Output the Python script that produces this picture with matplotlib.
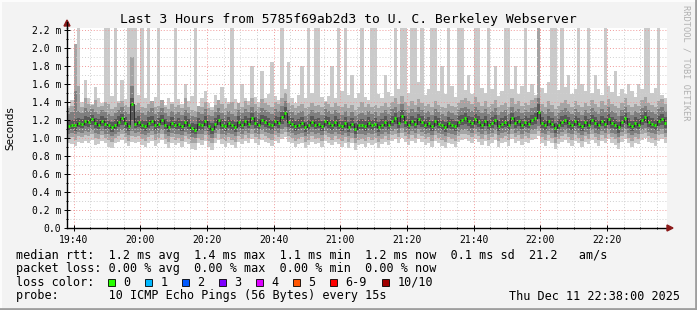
#!/usr/bin/env python3
"""SmokePing style latency graph (last 3 hours) redrawn with matplotlib."""

import matplotlib

matplotlib.use("Agg")

import matplotlib.pyplot as plt
from matplotlib.patches import Rectangle, Polygon
from matplotlib.ticker import FixedLocator, FixedFormatter, NullFormatter

# one column per minute, 19:38 .. 22:38, values in milliseconds
rtt_median = [
    1.13, 1.15, 1.14, 1.17, 1.16, 1.19, 1.18, 1.21, 1.17, 1.15, 1.19, 1.16, 1.14, 1.12, 1.15, 1.18, 1.22, 1.17, 1.13, 1.38,
    1.16, 1.18, 1.15, 1.13, 1.17, 1.19, 1.14, 1.16, 1.20, 1.15, 1.12, 1.17, 1.14, 1.16, 1.13, 1.18, 1.15, 1.11, 1.09, 1.16,
    1.14, 1.19, 1.13, 1.10, 1.16, 1.20, 1.15, 1.13, 1.17, 1.14, 1.12, 1.18, 1.15, 1.19, 1.16, 1.22, 1.17, 1.15, 1.20, 1.18,
    1.16, 1.14, 1.19, 1.17, 1.23, 1.28, 1.18, 1.16, 1.13, 1.15, 1.17, 1.12, 1.14, 1.18, 1.15, 1.16, 1.13, 1.19, 1.17, 1.14,
    1.18, 1.15, 1.13, 1.17, 1.12, 1.16, 1.10, 1.14, 1.15, 1.13, 1.17, 1.14, 1.16, 1.12, 1.15, 1.18, 1.14, 1.19, 1.22, 1.17,
    1.24, 1.18, 1.15, 1.19, 1.16, 1.21, 1.18, 1.15, 1.17, 1.13, 1.19, 1.16, 1.14, 1.12, 1.17, 1.15, 1.13, 1.18, 1.20, 1.22,
    1.19, 1.17, 1.21, 1.18, 1.15, 1.19, 1.14, 1.17, 1.20, 1.13, 1.16, 1.18, 1.14, 1.22, 1.17, 1.19, 1.15, 1.18, 1.16, 1.20,
    1.22, 1.29, 1.17, 1.14, 1.19, 1.16, 1.11, 1.15, 1.18, 1.20, 1.17, 1.14, 1.19, 1.16, 1.13, 1.18, 1.15, 1.20, 1.17, 1.14,
    1.19, 1.16, 1.21, 1.17, 1.15, 1.12, 1.18, 1.22, 1.16, 1.13, 1.17, 1.15, 1.20, 1.23, 1.18, 1.16, 1.14, 1.19, 1.21, 1.17,
]

rtt_min = [
    0.95, 0.93, 0.91, 0.96, 0.94, 0.97, 0.95, 0.98, 0.92, 0.93, 0.97, 0.94, 0.90, 0.89, 0.94, 0.96, 0.98, 0.95, 0.91, 0.96,
    0.95, 0.96, 0.92, 0.90, 0.95, 0.97, 0.91, 0.94, 0.98, 0.93, 0.89, 0.95, 0.92, 0.94, 0.90, 0.96, 0.93, 0.88, 0.87, 0.94,
    0.92, 0.97, 0.90, 0.87, 0.94, 0.98, 0.93, 0.90, 0.95, 0.92, 0.89, 0.96, 0.93, 0.97, 0.94, 0.99, 0.95, 0.92, 0.98, 0.96,
    0.94, 0.91, 0.97, 0.95, 0.99, 1.01, 0.96, 0.94, 0.90, 0.93, 0.95, 0.89, 0.92, 0.96, 0.93, 0.94, 0.90, 0.97, 0.95, 0.92,
    0.96, 0.93, 0.90, 0.95, 0.89, 0.94, 0.87, 0.92, 0.93, 0.90, 0.95, 0.92, 0.94, 0.89, 0.93, 0.96, 0.92, 0.97, 0.99, 0.95,
    1.00, 0.96, 0.92, 0.97, 0.94, 0.99, 0.96, 0.92, 0.95, 0.90, 0.97, 0.94, 0.91, 0.89, 0.95, 0.93, 0.90, 0.96, 0.98, 0.99,
    0.97, 0.95, 0.99, 0.96, 0.92, 0.97, 0.91, 0.95, 0.98, 0.90, 0.94, 0.96, 0.91, 0.99, 0.95, 0.97, 0.92, 0.96, 0.94, 0.98,
    0.99, 1.02, 0.95, 0.91, 0.97, 0.94, 0.88, 0.93, 0.96, 0.98, 0.95, 0.91, 0.97, 0.94, 0.90, 0.96, 0.93, 0.98, 0.95, 0.91,
    0.97, 0.94, 0.99, 0.95, 0.92, 0.88, 0.96, 0.99, 0.94, 0.90, 0.95, 0.93, 0.98, 1.00, 0.96, 0.94, 0.91, 0.97, 0.99, 0.95,
]

rtt_max = [
    1.36, 1.42, 2.05, 2.30, 1.40, 1.64, 1.45, 1.38, 1.57, 1.44, 1.39, 2.30, 2.30, 1.47, 2.30, 1.41, 1.64, 1.43, 2.30, 2.30,
    2.30, 1.48, 2.30, 1.44, 2.30, 1.39, 1.46, 2.30, 1.42, 1.37, 1.45, 1.40, 2.30, 1.43, 1.38, 1.60, 1.41, 1.47, 2.30, 1.36,
    1.44, 1.52, 1.39, 1.35, 1.48, 1.42, 1.57, 1.44, 1.40, 2.30, 1.43, 1.38, 1.60, 1.45, 1.41, 1.80, 1.46, 1.40, 1.75, 1.44,
    1.49, 1.85, 1.47, 1.42, 2.30, 1.55, 1.85, 1.45, 1.39, 1.48, 1.80, 1.44, 2.30, 1.50, 2.30, 2.30, 1.46, 1.41, 1.47, 1.80,
    1.45, 2.30, 1.52, 2.30, 1.48, 1.70, 1.44, 1.50, 2.30, 1.46, 1.42, 2.30, 2.30, 1.49, 1.45, 1.70, 1.51, 1.47, 2.30, 1.55,
    2.30, 2.30, 1.50, 2.30, 2.30, 1.62, 2.30, 1.48, 1.55, 2.30, 2.30, 1.52, 1.80, 1.49, 2.30, 1.58, 1.46, 2.30, 2.30, 1.53,
    1.70, 1.49, 2.30, 2.30, 1.56, 1.50, 2.30, 1.54, 1.80, 1.47, 1.52, 2.30, 2.30, 1.55, 1.80, 1.49, 1.58, 2.30, 1.51, 1.60,
    1.48, 2.30, 1.56, 1.50, 1.62, 2.30, 2.30, 1.53, 2.30, 1.57, 1.70, 1.49, 1.55, 2.30, 1.60, 1.52, 2.30, 1.50, 1.70, 1.54,
    1.48, 2.30, 1.58, 1.51, 1.75, 1.47, 1.55, 1.49, 1.60, 1.52, 1.46, 1.60, 1.54, 2.30, 2.30, 1.50, 1.56, 2.30, 1.48, 1.44,
]

ping2 = [
    1.00, 1.01, 0.98, 1.02, 1.01, 1.03, 1.02, 1.04, 1.00, 0.99, 1.03, 1.00, 0.98, 0.96, 1.00, 1.02, 1.04, 1.01, 0.97, 1.02,
    1.01, 1.02, 0.99, 0.97, 1.01, 1.03, 0.98, 1.00, 1.04, 0.99, 0.96, 1.01, 0.98, 1.00, 0.97, 1.02, 0.99, 0.95, 0.94, 1.00,
    0.98, 1.03, 0.97, 0.94, 1.00, 1.04, 0.99, 0.97, 1.01, 0.98, 0.96, 1.02, 0.99, 1.03, 1.00, 1.05, 1.01, 0.99, 1.04, 1.02,
    1.00, 0.98, 1.03, 1.01, 1.05, 1.07, 1.02, 1.00, 0.97, 0.99, 1.01, 0.96, 0.98, 1.02, 0.99, 1.00, 0.97, 1.03, 1.01, 0.98,
    1.02, 0.99, 0.97, 1.01, 0.96, 1.00, 0.94, 0.98, 0.99, 0.97, 1.01, 0.98, 1.00, 0.96, 0.99, 1.02, 0.98, 1.03, 1.05, 1.01,
    1.06, 1.02, 0.99, 1.03, 1.00, 1.05, 1.02, 0.99, 1.01, 0.97, 1.03, 1.00, 0.98, 0.96, 1.01, 0.99, 0.97, 1.02, 1.04, 1.05,
    1.03, 1.01, 1.05, 1.02, 0.99, 1.03, 0.98, 1.01, 1.04, 0.97, 1.00, 1.02, 0.98, 1.05, 1.01, 1.03, 0.99, 1.02, 1.00, 1.04,
    1.05, 1.08, 1.01, 0.98, 1.03, 1.00, 0.95, 0.99, 1.02, 1.04, 1.01, 0.98, 1.03, 1.00, 0.97, 1.02, 0.99, 1.04, 1.01, 0.98,
    1.03, 1.00, 1.05, 1.01, 0.99, 0.95, 1.02, 1.05, 1.00, 0.97, 1.01, 0.99, 1.04, 1.06, 1.02, 1.00, 0.98, 1.03, 1.05, 1.01,
]

ping9 = [
    1.33, 1.36, 2.05, 1.58, 1.35, 1.44, 1.38, 1.37, 1.42, 1.34, 1.36, 1.40, 1.38, 1.32, 1.35, 1.39, 1.41, 1.37, 1.34, 1.90,
    1.37, 1.39, 1.35, 1.33, 1.38, 1.41, 1.34, 1.36, 1.42, 1.35, 1.32, 1.38, 1.34, 1.37, 1.33, 1.45, 1.35, 1.31, 1.30, 1.36,
    1.34, 1.40, 1.33, 1.31, 1.37, 1.42, 1.38, 1.33, 1.38, 1.40, 1.32, 1.39, 1.35, 1.41, 1.37, 1.44, 1.38, 1.35, 1.43, 1.39,
    1.37, 1.35, 1.40, 1.38, 1.45, 1.50, 1.39, 1.37, 1.33, 1.36, 1.38, 1.33, 1.35, 1.39, 1.36, 1.37, 1.34, 1.40, 1.38, 1.35,
    1.39, 1.36, 1.34, 1.38, 1.33, 1.37, 1.31, 1.35, 1.40, 1.34, 1.38, 1.35, 1.37, 1.33, 1.36, 1.39, 1.35, 1.40, 1.44, 1.38,
    1.47, 1.40, 1.36, 1.41, 1.37, 1.43, 1.39, 1.36, 1.38, 1.34, 1.41, 1.37, 1.35, 1.33, 1.38, 1.36, 1.34, 1.39, 1.42, 1.44,
    1.41, 1.38, 1.46, 1.40, 1.36, 1.41, 1.35, 1.38, 1.42, 1.34, 1.37, 1.39, 1.35, 1.44, 1.38, 1.41, 1.36, 1.39, 1.37, 1.42,
    1.44, 2.30, 1.38, 1.35, 1.41, 1.37, 1.32, 1.36, 1.39, 1.42, 1.38, 1.35, 1.41, 1.37, 1.34, 1.39, 1.36, 1.42, 1.38, 1.35,
    1.41, 1.37, 1.43, 1.38, 1.36, 1.33, 1.39, 1.44, 1.37, 1.34, 1.38, 1.36, 1.42, 1.46, 1.39, 1.37, 1.35, 1.41, 1.43, 1.38,
]

ping3 = [
    1.05, 1.06, 1.04, 1.07, 1.06, 1.08, 1.07, 1.09, 1.06, 1.05, 1.08, 1.05, 1.04, 1.02, 1.05, 1.07, 1.09, 1.06, 1.03, 1.08,
    1.06, 1.07, 1.05, 1.03, 1.06, 1.08, 1.04, 1.06, 1.09, 1.05, 1.02, 1.06, 1.04, 1.05, 1.03, 1.07, 1.05, 1.01, 1.00, 1.05,
    1.04, 1.08, 1.03, 1.00, 1.06, 1.09, 1.05, 1.03, 1.06, 1.04, 1.02, 1.07, 1.05, 1.08, 1.06, 1.10, 1.06, 1.05, 1.09, 1.07,
    1.06, 1.04, 1.08, 1.06, 1.10, 1.12, 1.07, 1.06, 1.03, 1.05, 1.06, 1.02, 1.04, 1.07, 1.05, 1.06, 1.03, 1.08, 1.06, 1.04,
    1.07, 1.05, 1.03, 1.06, 1.02, 1.06, 1.00, 1.04, 1.05, 1.03, 1.06, 1.04, 1.06, 1.02, 1.05, 1.07, 1.04, 1.08, 1.10, 1.06,
    1.11, 1.07, 1.05, 1.08, 1.06, 1.10, 1.07, 1.05, 1.06, 1.03, 1.08, 1.06, 1.04, 1.02, 1.06, 1.05, 1.03, 1.07, 1.09, 1.10,
    1.08, 1.06, 1.10, 1.07, 1.05, 1.08, 1.04, 1.06, 1.09, 1.03, 1.06, 1.07, 1.04, 1.10, 1.06, 1.08, 1.05, 1.07, 1.06, 1.09,
    1.10, 1.13, 1.06, 1.04, 1.08, 1.06, 1.01, 1.05, 1.07, 1.09, 1.06, 1.04, 1.08, 1.06, 1.03, 1.07, 1.05, 1.09, 1.06, 1.04,
    1.08, 1.06, 1.10, 1.06, 1.05, 1.01, 1.07, 1.10, 1.06, 1.03, 1.06, 1.05, 1.09, 1.11, 1.07, 1.06, 1.04, 1.08, 1.10, 1.06,
]

ping8 = [
    1.27, 1.29, 1.52, 1.30, 1.28, 1.33, 1.30, 1.32, 1.29, 1.27, 1.31, 1.29, 1.27, 1.25, 1.28, 1.31, 1.34, 1.30, 1.27, 1.58,
    1.30, 1.31, 1.28, 1.26, 1.30, 1.33, 1.27, 1.29, 1.33, 1.28, 1.25, 1.30, 1.27, 1.29, 1.26, 1.31, 1.28, 1.24, 1.23, 1.29,
    1.27, 1.32, 1.26, 1.24, 1.29, 1.33, 1.28, 1.26, 1.30, 1.27, 1.25, 1.31, 1.28, 1.32, 1.29, 1.35, 1.30, 1.28, 1.33, 1.31,
    1.29, 1.27, 1.32, 1.30, 1.36, 1.41, 1.31, 1.29, 1.26, 1.28, 1.30, 1.25, 1.27, 1.31, 1.28, 1.29, 1.26, 1.32, 1.30, 1.27,
    1.31, 1.28, 1.26, 1.30, 1.25, 1.29, 1.24, 1.27, 1.28, 1.26, 1.30, 1.27, 1.29, 1.25, 1.28, 1.31, 1.27, 1.32, 1.35, 1.30,
    1.38, 1.31, 1.28, 1.32, 1.29, 1.34, 1.31, 1.28, 1.30, 1.26, 1.32, 1.29, 1.27, 1.25, 1.30, 1.28, 1.26, 1.31, 1.33, 1.35,
    1.32, 1.30, 1.34, 1.31, 1.28, 1.32, 1.27, 1.30, 1.33, 1.26, 1.29, 1.31, 1.27, 1.35, 1.30, 1.32, 1.28, 1.31, 1.29, 1.33,
    1.35, 1.45, 1.30, 1.27, 1.32, 1.29, 1.24, 1.28, 1.31, 1.33, 1.30, 1.27, 1.32, 1.29, 1.26, 1.31, 1.28, 1.33, 1.30, 1.27,
    1.32, 1.29, 1.34, 1.30, 1.28, 1.25, 1.31, 1.35, 1.29, 1.26, 1.30, 1.28, 1.33, 1.36, 1.31, 1.29, 1.27, 1.32, 1.34, 1.30,
]

ping4 = [
    1.09, 1.10, 1.08, 1.12, 1.11, 1.13, 1.12, 1.15, 1.11, 1.10, 1.13, 1.10, 1.09, 1.07, 1.10, 1.12, 1.15, 1.11, 1.08, 1.20,
    1.11, 1.12, 1.10, 1.08, 1.11, 1.13, 1.09, 1.11, 1.14, 1.10, 1.07, 1.11, 1.09, 1.10, 1.08, 1.12, 1.10, 1.06, 1.05, 1.10,
    1.09, 1.13, 1.08, 1.05, 1.11, 1.14, 1.10, 1.08, 1.11, 1.09, 1.07, 1.12, 1.10, 1.13, 1.11, 1.15, 1.11, 1.10, 1.14, 1.12,
    1.11, 1.09, 1.13, 1.11, 1.16, 1.19, 1.12, 1.11, 1.08, 1.10, 1.11, 1.07, 1.09, 1.12, 1.10, 1.11, 1.08, 1.13, 1.11, 1.09,
    1.12, 1.10, 1.08, 1.11, 1.07, 1.11, 1.05, 1.09, 1.10, 1.08, 1.11, 1.09, 1.11, 1.07, 1.10, 1.12, 1.09, 1.13, 1.16, 1.11,
    1.17, 1.12, 1.10, 1.13, 1.11, 1.15, 1.12, 1.10, 1.11, 1.08, 1.13, 1.11, 1.09, 1.07, 1.11, 1.10, 1.08, 1.12, 1.14, 1.16,
    1.13, 1.11, 1.15, 1.12, 1.10, 1.13, 1.09, 1.11, 1.14, 1.08, 1.11, 1.12, 1.09, 1.16, 1.11, 1.13, 1.10, 1.12, 1.11, 1.14,
    1.16, 1.21, 1.11, 1.09, 1.13, 1.11, 1.06, 1.10, 1.12, 1.14, 1.11, 1.09, 1.13, 1.11, 1.08, 1.12, 1.10, 1.14, 1.11, 1.09,
    1.13, 1.11, 1.15, 1.11, 1.10, 1.06, 1.12, 1.16, 1.11, 1.08, 1.11, 1.10, 1.14, 1.17, 1.12, 1.11, 1.09, 1.13, 1.15, 1.11,
]

ping7 = [
    1.19, 1.20, 1.21, 1.22, 1.21, 1.25, 1.23, 1.26, 1.22, 1.21, 1.24, 1.22, 1.20, 1.18, 1.21, 1.24, 1.27, 1.23, 1.19, 1.45,
    1.22, 1.24, 1.20, 1.19, 1.23, 1.25, 1.20, 1.22, 1.26, 1.21, 1.18, 1.23, 1.20, 1.22, 1.19, 1.24, 1.21, 1.17, 1.16, 1.22,
    1.20, 1.25, 1.19, 1.17, 1.22, 1.26, 1.21, 1.19, 1.23, 1.20, 1.18, 1.24, 1.21, 1.25, 1.22, 1.28, 1.23, 1.21, 1.26, 1.24,
    1.22, 1.20, 1.25, 1.23, 1.29, 1.34, 1.24, 1.22, 1.19, 1.21, 1.23, 1.18, 1.20, 1.24, 1.21, 1.22, 1.19, 1.25, 1.23, 1.20,
    1.24, 1.21, 1.19, 1.23, 1.18, 1.22, 1.17, 1.20, 1.21, 1.19, 1.23, 1.20, 1.22, 1.18, 1.21, 1.24, 1.20, 1.25, 1.28, 1.23,
    1.31, 1.24, 1.21, 1.25, 1.22, 1.27, 1.24, 1.21, 1.23, 1.19, 1.25, 1.22, 1.20, 1.18, 1.23, 1.21, 1.19, 1.24, 1.26, 1.28,
    1.25, 1.23, 1.27, 1.24, 1.21, 1.25, 1.20, 1.23, 1.26, 1.19, 1.22, 1.24, 1.20, 1.28, 1.23, 1.25, 1.21, 1.24, 1.22, 1.26,
    1.28, 1.38, 1.23, 1.20, 1.25, 1.22, 1.17, 1.21, 1.24, 1.26, 1.23, 1.20, 1.25, 1.22, 1.19, 1.24, 1.21, 1.26, 1.23, 1.20,
    1.25, 1.22, 1.27, 1.23, 1.21, 1.18, 1.24, 1.28, 1.22, 1.19, 1.23, 1.21, 1.26, 1.29, 1.24, 1.22, 1.20, 1.25, 1.27, 1.23,
]

time_labels = ["19:40", "20:00", "20:20", "20:40", "21:00", "21:20", "21:40", "22:00", "22:20"]
value_labels = ["0.0", "0.2 m", "0.4 m", "0.6 m", "0.8 m", "1.0 m", "1.2 m", "1.4 m",
                "1.6 m", "1.8 m", "2.0 m", "2.2 m"]
loss_names = ["0", "1", "2", "3", "4", "5", "6-9", "10/10"]
loss_colors = ["#26ff00", "#00b8ff", "#0059ff", "#7e00ff", "#dd00ff", "#ff5500", "#ff0000", "#a10000"]

W, H = 697, 310
MONO = "DejaVu Sans Mono"


def px_box(left, top, right, bottom):
    return [left / W, 1 - bottom / H, (right - left) / W, (bottom - top) / H]


fig = plt.figure(figsize=(W / 100, H / 100), dpi=100, facecolor="#f3f3f3")
ax = fig.add_axes(px_box(67, 27.5, 667, 228))
ax.set_facecolor("white")

minutes = list(range(len(rtt_median)))
layers = [
    (rtt_min, rtt_max, "#cacaca"),
    (ping2, ping9, "#a4a4a4"),
    (ping3, ping8, "#7e7e7e"),
    (ping4, ping7, "#585858"),
]
for low, high, colour in layers:
    ax.bar(minutes, [h - l for l, h in zip(low, high)], bottom=low, width=1.0,
           align="edge", color=colour, linewidth=0, zorder=1)

# median: dark step trace with short green loss-colour marks on top
ax.step([m + 0.5 for m in minutes], rtt_median, where="mid", color="#202020",
        linewidth=0.6, zorder=3)
ax.hlines(rtt_median, [m + 0.2 for m in minutes], [m + 0.8 for m in minutes],
          color=loss_colors[0], linewidth=2.0, zorder=4)

ax.set_xlim(0, 180)
ax.set_ylim(0, 2.228)

major_x = [2 + 20 * i for i in range(len(time_labels))]
ax.xaxis.set_major_locator(FixedLocator(major_x))
ax.xaxis.set_major_formatter(FixedFormatter(time_labels))
ax.xaxis.set_minor_locator(FixedLocator([2 + 5 * i for i in range(36)]))
ax.xaxis.set_minor_formatter(NullFormatter())
ax.yaxis.set_major_locator(FixedLocator([0.2 * i for i in range(len(value_labels))]))
ax.yaxis.set_major_formatter(FixedFormatter(value_labels))
ax.yaxis.set_minor_locator(FixedLocator([0.1 + 0.2 * i for i in range(11)]))

ax.set_axisbelow(False)
ax.grid(which="minor", color="#d0d0d0", linestyle=(0, (1, 2)), linewidth=0.7)
ax.grid(which="major", color="#f09a9a", linestyle=(0, (1, 2)), linewidth=0.7)

for side in ("top", "right"):
    ax.spines[side].set_visible(False)
for side in ("left", "bottom"):
    ax.spines[side].set_color("black")
    ax.spines[side].set_linewidth(1.0)
    ax.spines[side].set_zorder(5)

ax.tick_params(which="both", direction="inout", colors="black", width=0.7,
               labelsize=7)
ax.tick_params(which="major", length=4)
ax.tick_params(which="minor", length=2)
ax.tick_params(axis="y", pad=2)
ax.tick_params(axis="x", pad=3)
for label in ax.get_xticklabels() + ax.get_yticklabels():
    label.set_fontfamily(MONO)

# overlay in pixel coordinates for texts, arrows, legend boxes and frame
ov = fig.add_axes([0, 0, 1, 1])
ov.set_xlim(0, W)
ov.set_ylim(H, 0)
ov.axis("off")

ov.add_patch(Polygon([(64, 26), (70, 26), (67, 20)], closed=True, color="#8b1a1a"))
ov.plot([67, 67], [22, 28], color="black", linewidth=1.0)
ov.add_patch(Polygon([(667, 225), (667, 231), (673, 228)], closed=True, color="#8b1a1a"))

ov.text(348.5, 19, "Last 3 Hours from 5785f69ab2d3 to U. C. Berkeley Webserver",
        ha="center", va="center", fontsize=9.4, family=MONO, color="black")
ov.text(10, 128, "Seconds", rotation=90, ha="center", va="center",
        fontsize=7.5, family="DejaVu Sans", color="black")
ov.text(686, 5, "RRDTOOL / TOBI OETIKER", rotation=270, ha="center", va="top",
        fontsize=6.2, family=MONO, color="#b0b0b0")

legend_size = 8.5
rows = [
    (255, "median rtt:  1.2 ms avg  1.4 ms max  1.1 ms min  1.2 ms now  0.1 ms sd  21.2   am/s"),
    (268.5, "packet loss: 0.00 % avg  0.00 % max  0.00 % min  0.00 % now"),
    (282, "loss color:"),
    (296, "probe:       10 ICMP Echo Pings (56 Bytes) every 15s"),
]
for y, text in rows:
    ov.text(16, y, text, ha="left", va="center", fontsize=legend_size, family=MONO)
ov.text(680, 296, "Thu Dec 11 22:38:00 2025", ha="right", va="center",
        fontsize=legend_size, family=MONO)

box_x = [108, 145, 182, 219, 256, 293, 330, 382]
for bx, name, colour in zip(box_x, loss_names, loss_colors):
    ov.add_patch(Rectangle((bx, 278.5), 7, 7, facecolor=colour, edgecolor="black",
                           linewidth=0.6))
    ov.text(bx + 15.5, 282, name, ha="left", va="center", fontsize=legend_size, family=MONO)

# raised frame like rrdtool draws
ov.plot([0, W], [0.5, 0.5], color="#fcfcfc", linewidth=1.5)
ov.plot([0.5, 0.5], [0, H], color="#fcfcfc", linewidth=1.5)
ov.plot([0, W], [H - 1, H - 1], color="#9e9e9e", linewidth=2.0)
ov.plot([W - 1, W - 1], [0, H], color="#9e9e9e", linewidth=2.0)

fig.savefig("out.png", dpi=100, facecolor=fig.get_facecolor())
